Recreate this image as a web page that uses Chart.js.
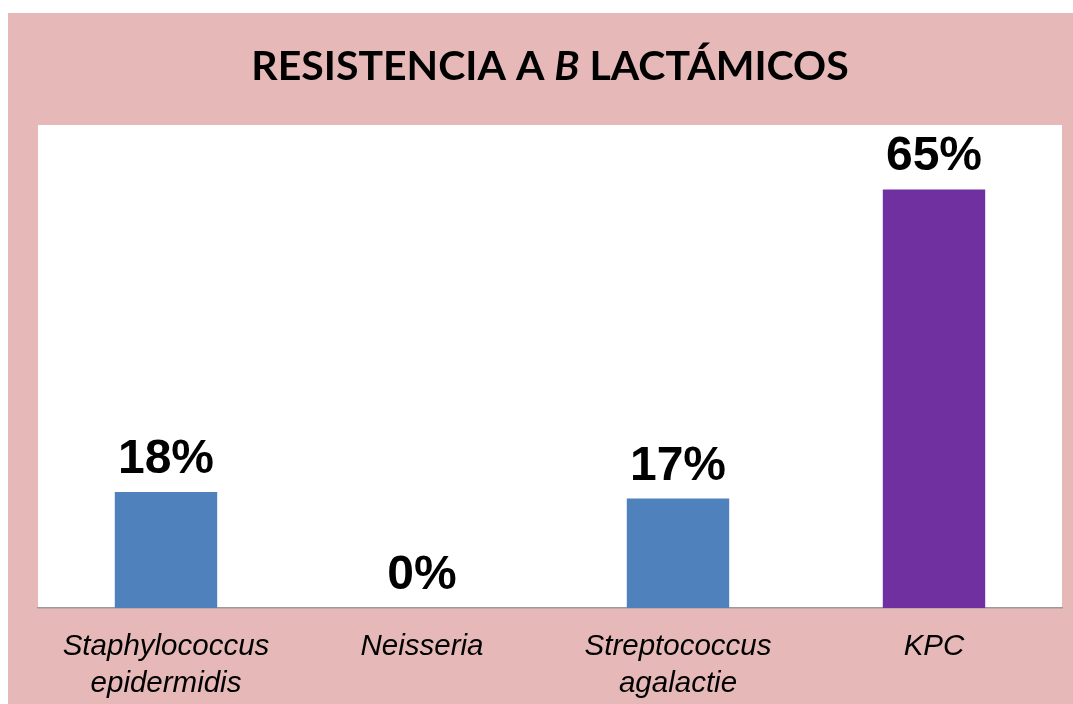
<!DOCTYPE html>
<html>
<head>
<meta charset="utf-8">
<script src="https://cdn.jsdelivr.net/npm/chart.js@4"></script>
<style>
  html, body { margin: 0; padding: 0; background: #ffffff; }
  #wrap { position: absolute; left: 8px; top: 13px; width: 1065px; height: 691px; background: #E6B9B8; }
</style>
</head>
<body>
<div id="wrap"><canvas id="chart"></canvas></div>
<script>
const categories = [
  ["Staphylococcus", "epidermidis"],
  "Neisseria",
  ["Streptococcus", "agalactie"],
  "KPC",
];
const resistance = [18, 0, 17, 65];
const barColors = ["#4F81BD", "#4F81BD", "#4F81BD", "#7030A0"];

// title parts: [text, italic]
const titleParts = [["RESISTENCIA A ", false], ["B", true], [" LACTÁMICOS", false]];

const whiteArea = {
  id: "whiteArea",
  beforeDraw(chart) {
    const { ctx, chartArea } = chart;
    ctx.save();
    ctx.fillStyle = "#ffffff";
    ctx.fillRect(chartArea.left, chartArea.top, chartArea.right - chartArea.left, chartArea.bottom - chartArea.top);
    ctx.restore();
  },
};

const titlePlugin = {
  id: "splitTitle",
  afterDraw(chart) {
    const { ctx, chartArea } = chart;
    ctx.save();
    ctx.fillStyle = "#000000";
    ctx.textBaseline = "alphabetic";
    const fontFor = (it) => (it ? "italic " : "") + "bold 41px Lato";
    let total = 0;
    titleParts.forEach(([t, it]) => { ctx.font = fontFor(it); total += ctx.measureText(t).width; });
    let x = (chartArea.left + chartArea.right) / 2 - total / 2;
    titleParts.forEach(([t, it]) => {
      ctx.font = fontFor(it);
      ctx.fillText(t, x, 67);
      x += ctx.measureText(t).width;
    });
    ctx.restore();
  },
};

const valueLabels = {
  id: "valueLabels",
  afterDatasetsDraw(chart) {
    const { ctx } = chart;
    const meta = chart.getDatasetMeta(0);
    ctx.save();
    ctx.font = "bold 48px 'Liberation Sans'";
    ctx.fillStyle = "#000000";
    ctx.textAlign = "center";
    ctx.textBaseline = "alphabetic";
    meta.data.forEach((bar, i) => {
      ctx.fillText(resistance[i] + "%", bar.x, bar.y - 19);
    });
    ctx.restore();
  },
};

new Chart(document.getElementById("chart"), {
  type: "bar",
  data: {
    labels: categories,
    datasets: [{
      data: resistance,
      backgroundColor: barColors,
      borderWidth: 0,
      categoryPercentage: 1,
      barPercentage: 0.4,
    }],
  },
  options: {
    responsive: true,
    maintainAspectRatio: false,
    animation: false,
    layout: { padding: { left: 30, right: 11, top: 112, bottom: 0 } },
    plugins: {
      legend: { display: false },
      tooltip: { enabled: false },
    },
    scales: {
      y: { display: false, min: 0, max: 75 },
      x: {
        grid: { display: false, drawTicks: false },
        border: { color: "#9a9a9a", width: 1.5 },
        ticks: {
          color: "#000000",
          padding: 20,
          maxRotation: 0,
          font: { family: "'Liberation Sans'", size: 29.5, style: "italic", lineHeight: 1.25 },
        },
        afterFit(scale) { scale.height = 96; },
      },
    },
  },
  plugins: [whiteArea, titlePlugin, valueLabels],
});
</script>
</body>
</html>
